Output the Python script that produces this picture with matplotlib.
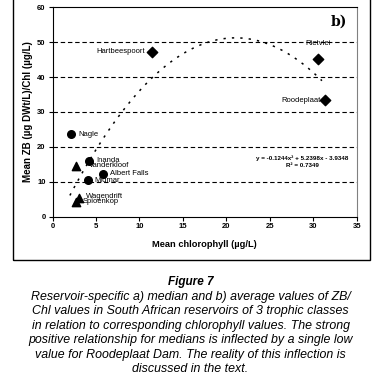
import matplotlib
matplotlib.use("Agg")
import matplotlib.pyplot as plt
from matplotlib.patches import Rectangle
import numpy as np

plt.rcParams['font.family'] = ['Liberation Sans', 'DejaVu Sans']

# reservoirs, by marker group
diamond_names = ['Hartbeespoort', 'Rietvlei', 'Roodeplaat']
diamond_x = [11.5, 30.5, 31.4]
diamond_y = [47.2, 45.1, 33.4]

circle_names = ['Nagle', 'Inanda', 'Albert Falls', 'Midmar']
circle_x = [2.1, 4.2, 5.85, 4.05]
circle_y = [23.6, 15.8, 12.2, 10.4]

triangle_names = ['Vanderkloof', 'Wagendrift', 'Spioenkop']
triangle_x = [2.7, 3.0, 2.7]
triangle_y = [14.4, 5.3, 4.3]

# trendline coefficients (from the chart)
coef = [-0.1244, 5.2398, -3.9348]
fit_x0, fit_x1 = 2.0, 31.0

# label offsets in pixels (dx, dy, ha)
offsets = {
    'Hartbeespoort': (-7, 0, 'right'),
    'Rietvlei': (0, 16, 'center'),
    'Roodeplaat': (-5, 0, 'right'),
    'Nagle': (8, 0, 'left'),
    'Inanda': (7, 1, 'left'),
    'Albert Falls': (7, 0, 'left'),
    'Midmar': (7, 0, 'left'),
    'Vanderkloof': (13, 1, 'left'),
    'Wagendrift': (7, 2, 'left'),
    'Spioenkop': (7, 0, 'left'),
}

fig = plt.figure(figsize=(3.81, 3.82), dpi=100)
ax = fig.add_axes([0.1378, 0.4332, 0.7984, 0.5477])

for yv in [10, 20, 30, 40, 50]:
    ax.axhline(yv, color='black', lw=0.8, ls=(0, (4, 2.5)), zorder=1)

xs = np.linspace(fit_x0, fit_x1, 200)
ax.plot(xs, np.polyval(coef, xs), color='black', lw=1.1, ls=(0, (1.5, 4)), zorder=2)

ax.scatter(diamond_x, diamond_y, marker='D', s=28, color='black', zorder=3)
ax.scatter(circle_x, circle_y, marker='o', s=30, color='black', zorder=3)
ax.scatter(triangle_x, triangle_y, marker='^', s=36, color='black', zorder=3)

for names, xv, yv in [(diamond_names, diamond_x, diamond_y),
                      (circle_names, circle_x, circle_y),
                      (triangle_names, triangle_x, triangle_y)]:
    for n, a, b in zip(names, xv, yv):
        dx, dy, ha = offsets[n]
        ax.annotate(n, (a, b), xytext=(dx, dy), textcoords='offset pixels',
                    ha=ha, va='center', fontsize=5.5, zorder=4)

ax.text(0.82, 0.262, 'y = -0.1244x\u00b2 + 5.2398x - 3.9348\nR\u00b2 = 0.7349',
        transform=ax.transAxes, ha='center', va='center', fontsize=4.5,
        fontweight='bold', linespacing=1.3)
ax.text(0.967, 0.93, 'b)', transform=ax.transAxes, ha='right', va='center',
        fontsize=10, fontweight='bold', family='DejaVu Serif')

ax.set_xlim(0, 35)
ax.set_ylim(0, 60)
ax.set_xticks(range(0, 36, 5))
ax.set_yticks(range(0, 61, 10))
ax.tick_params(labelsize=5.5, length=3, width=0.8, pad=2)
for lab in ax.get_xticklabels() + ax.get_yticklabels():
    lab.set_fontweight('bold')
ax.spines['right'].set_color('#808080')
for s in ax.spines.values():
    s.set_linewidth(0.8)

ax.set_xlabel('Mean chlorophyll (\u00b5g/L)', fontsize=6.7, fontweight='bold', labelpad=7)
ax.set_ylabel('Mean ZB (\u00b5g DWt/L)/Chl (\u00b5g/L)', fontsize=7, fontweight='bold', labelpad=3)

# outer frame around the chart panel
fig.patches.append(Rectangle((13 / 381, 1 - 260 / 382), 357 / 381, 270 / 382,
                             transform=fig.transFigure, fill=False,
                             edgecolor='black', lw=1.0, clip_on=False))

fig.text(0.5, 1 - 282 / 382, 'Figure 7', ha='center', va='center',
         fontsize=8.5, fontweight='bold', style='italic')
caption = ["Reservoir-specific a) median and b) average values of ZB/",
           "Chl values in South African reservoirs of 3 trophic classes",
           "in relation to corresponding chlorophyll values. The strong",
           "positive relationship for medians is inflected by a single low",
           "value for Roodeplaat Dam. The reality of this inflection is",
           "discussed in the text."]
for i, line in enumerate(caption):
    fig.text(0.5, 1 - (296.7 + 14.55 * i) / 382, line, ha='center', va='center',
             fontsize=8.9, style='italic')

fig.savefig('out.png', dpi=100)
